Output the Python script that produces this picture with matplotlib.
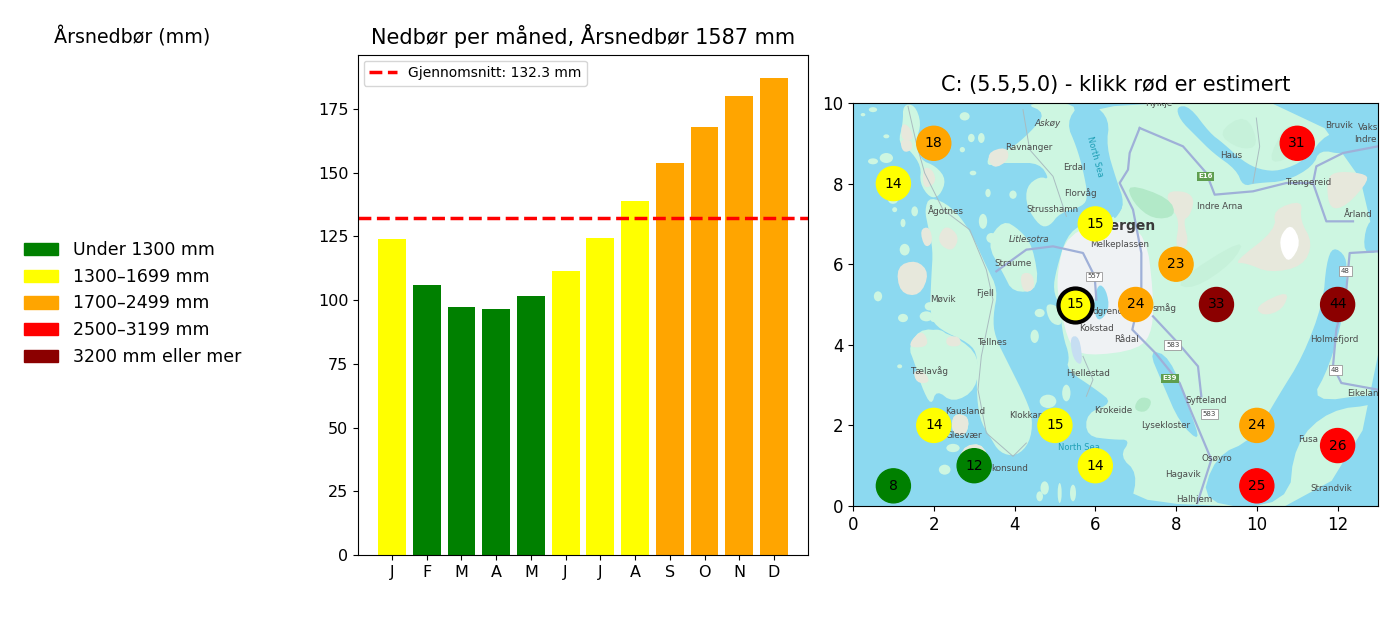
import matplotlib
matplotlib.use('Agg')
import matplotlib.pyplot as plt
from matplotlib.patches import Patch, Polygon, Ellipse

# colours for the rainfall classes
GREEN = 'green'
YELLOW = 'yellow'
ORANGE = 'orange'
RED = 'red'
DARKRED = 'darkred'

# monthly bars
months = ['J', 'F', 'M', 'A', 'M', 'J', 'J', 'A', 'S', 'O', 'N', 'D']
month_values = [124, 106, 97.5, 96.5, 101.5, 111.5, 124.5, 139, 154, 168, 180, 187]
month_colors = [YELLOW, GREEN, GREEN, GREEN, GREEN, YELLOW, YELLOW, YELLOW,
                ORANGE, ORANGE, ORANGE, ORANGE]
mean_value = 132.3

# legend
class_labels = ['Under 1300 mm', '1300–1699 mm', '1700–2499 mm', '2500–3199 mm', '3200 mm eller mer']
class_colors = [GREEN, YELLOW, ORANGE, RED, DARKRED]

# stations on the map
st_x = [2, 1, 6, 8, 7, 9, 12, 11, 2, 5, 10, 12, 3, 6, 1, 10]
st_y = [9, 8, 7, 6, 5, 5, 5, 9, 2, 2, 2, 1.5, 1, 1, 0.5, 0.5]
st_val = [18, 14, 15, 23, 24, 33, 44, 31, 14, 15, 24, 26, 12, 14, 8, 25]
st_col = [ORANGE, YELLOW, YELLOW, ORANGE, ORANGE, DARKRED, DARKRED, RED,
          YELLOW, YELLOW, ORANGE, RED, GREEN, YELLOW, GREEN, RED]
sel_x, sel_y, sel_val = 5.5, 5.0, 15

# map background, traced at 3x map pixels (1575 x 1209)
WATER = '#8cd9f0'
LAND = '#cdf6e1'
BEIGE = '#e7e8dc'
URBAN = '#eff2f4'
FOREST = '#b2e9c8'
HILL = '#c6f1da'
ROAD = '#9fb0d8'
THIN_ROAD = '#a9bcc0'

land_shapes = [
    # mainland
    [(720, 0), (1575, 0), (1575, 1209), (833, 1209), (854, 1110), (800, 1060), (833, 1010), (780, 1010), (700, 1000),
     (700, 930), (780, 900), (730, 860), (640, 800), (650, 760), (630, 700), (620, 610), (600, 560), (610, 500),
     (640, 400), (690, 360), (790, 345), (815, 300), (790, 230), (760, 130), (770, 50)],
    # Sotra
    [(230, 280), (295, 310), (350, 380), (400, 490), (435, 560), (420, 640), (425, 700), (470, 790), (520, 890),
     (540, 950), (530, 1020), (490, 1060), (440, 1050), (410, 1000), (380, 950), (370, 860), (375, 760), (350, 720),
     (260, 680), (230, 640), (235, 520), (240, 440), (225, 370), (215, 320)],
    # west of Sotra
    [(165, 730), (210, 670), (310, 700), (380, 760), (370, 860), (300, 900), (250, 860), (235, 910), (205, 850),
     (185, 780)],
    # outer strip in the north west
    [(150, 5), (185, 5), (205, 60), (190, 110), (200, 170), (250, 190), (280, 230), (260, 280), (230, 285), (200, 240),
     (205, 190), (170, 140), (135, 120), (150, 60)],
    # Askoy
    [(470, 140), (530, 90), (580, 30), (510, 0), (680, 0), (640, 60), (670, 130), (690, 200), (705, 280), (690, 310),
     (620, 330), (590, 370), (560, 370), (520, 310), (520, 250), (560, 220), (590, 230), (560, 180), (480, 180),
     (440, 180), (400, 190), (410, 150)],
    # Litlesotra
    [(400, 420), (450, 350), (500, 380), (540, 430), (560, 560), (480, 570), (450, 510)],
    # islands near Sekkingstad
    [(300, 930), (350, 940), (340, 1000), (295, 990)],
    [(320, 1030), (400, 1020), (410, 1140), (320, 1140)],
    [(575, 600), (620, 610), (630, 670), (590, 660)],
]
water_shapes = [
    # Sorfjorden and the arm by Trengereid
    [(970, 10), (1010, 10), (1070, 90), (1110, 120), (1170, 175), (1220, 200), (1280, 205), (1360, 170), (1420, 90),
     (1500, 85), (1560, 20), (1575, 10), (1581, 100), (1540, 135), (1470, 155), (1400, 140), (1380, 190), (1300, 235),
     (1210, 240), (1170, 250), (1150, 200), (1080, 150), (1030, 100), (980, 50)],
    # Fusafjorden and Samnangerfjorden
    [(1440, 430), (1480, 460), (1480, 520), (1475, 620), (1430, 790), (1370, 900), (1575, 870), (1575, 905),
     (1430, 920), (1325, 1020), (1306, 1209), (1042, 1209), (1085, 1060), (1200, 1010), (1275, 880), (1350, 760),
     (1410, 600), (1420, 480)],
    # sliver at the right edge
    [(1540, 360), (1581, 340), (1581, 450), (1530, 450)],
    # Fanafjorden
    [(886, 740), (950, 760), (1010, 920), (1044, 1020), (980, 960), (928, 840)],
    # inlet at the city
    [(735, 540), (760, 560), (770, 620), (735, 660), (720, 610)],
    # Byfjorden
    [(780, 260), (815, 300), (790, 345), (780, 345)],
]
urban_shapes = [
    [(640, 390), (800, 345), (880, 400), (900, 560), (900, 680), (860, 740), (700, 760), (650, 730), (620, 610),
     (610, 520)],
]
beige_shapes = [
    [(940, 265), (1000, 265), (1025, 290), (1010, 340), (990, 350), (1010, 430), (965, 440), (980, 350), (950, 310)],
    [(1140, 480), (1270, 380), (1260, 320), (1350, 290), (1340, 350), (1380, 420), (1350, 490), (1250, 510),
     (1180, 480)],
    [(1420, 240), (1440, 205), (1530, 210), (1550, 230), (1480, 310), (1430, 320)],
    [(1205, 610), (1310, 560), (1290, 620), (1230, 640)],
    [(255, 400), (280, 365), (320, 400), (300, 445), (265, 430)],
    [(200, 380), (230, 370), (240, 420), (215, 435)],
    [(130, 490), (190, 470), (230, 510), (200, 580), (140, 570)],
    [(140, 110), (175, 110), (180, 140), (150, 150)],
    [(145, 60), (170, 70), (185, 110), (145, 115)],
    [(210, 190), (240, 200), (250, 240), (210, 260)],
    [(500, 510), (540, 510), (545, 560), (510, 570)],
    [(400, 150), (460, 130), (470, 170), (420, 200)],
    [(175, 710), (210, 680), (230, 730), (170, 735)],
    [(280, 700), (320, 700), (325, 730), (280, 730)],
    [(180, 800), (220, 810), (230, 840), (190, 840)],
    [(300, 930), (350, 940), (340, 1000), (295, 990)],
    [(320, 1030), (400, 1020), (410, 1140), (320, 1140)],
]
hill_shapes = [
    [(960, 540), (1180, 400), (1140, 480), (1020, 560)],
    [(1240, 180), (1300, 60), (1340, 80), (1310, 170)],
    [(1090, 90), (1180, 30), (1220, 130), (1160, 140)],
]
forest_shapes = [
    [(820, 240), (950, 285), (970, 340), (900, 350), (840, 300)],
    [(860, 880), (900, 890), (880, 930), (840, 920)],
]
snow_shape = [(1280, 400), (1315, 360), (1345, 420), (1310, 480), (1285, 450)]
lake_shapes = [
    [(650, 700), (680, 700), (690, 790), (660, 770)],
]
# small islands: centre u, centre v, width, height
islets = [(60, 175, 30, 18), (100, 165, 40, 30), (30, 35, 14, 10), (60, 20, 25, 15), (335, 40, 30, 25),
          (355, 105, 20, 25), (385, 105, 20, 30), (328, 140, 16, 16), (405, 270, 16, 25), (480, 275, 22, 25),
          (390, 355, 25, 45), (150, 360, 15, 25), (185, 325, 20, 30), (125, 320, 15, 15), (155, 440, 30, 35),
          (75, 580, 25, 30), (415, 405, 30, 30), (360, 210, 20, 14), (150, 645, 30, 25), (220, 640, 40, 30),
          (230, 610, 30, 25), (245, 650, 25, 15), (140, 790, 15, 12), (275, 1100, 35, 30), (300, 1035, 40, 25),
          (585, 895, 50, 40), (640, 870, 25, 50), (545, 700, 25, 40), (560, 630, 30, 25), (575, 1155, 25, 40),
          (620, 1170, 12, 60), (560, 1180, 20, 30), (660, 1170, 18, 50), (100, 100, 18, 12), (110, 230, 50, 30),
          (120, 290, 30, 25), (250, 700, 60, 40)]
road_lines = [
    [(860, 75), (830, 150), (825, 200), (800, 240), (840, 320), (865, 450), (865, 560), (838, 680), (907, 750),
     (980, 840), (1012, 920), (1054, 1020), (1075, 1070), (1033, 1200)],
    [(860, 75), (990, 130), (1060, 210), (1085, 275), (1200, 265), (1300, 240), (1380, 240), (1420, 355), (1500, 355)],
    [(1380, 240), (1390, 190), (1470, 150), (1575, 130)],
    [(430, 505), (520, 440), (600, 430), (690, 450), (725, 520), (730, 590)],
    [(900, 640), (975, 720), (1035, 790), (1045, 880)],
    [(1575, 445), (1490, 450), (1480, 560), (1450, 680), (1440, 790), (1465, 840), (1575, 860)],
]
thin_roads = [
    [(165, 10), (190, 120), (215, 210), (270, 320), (350, 380), (400, 500), (420, 590), (385, 760), (375, 860),
     (400, 990), (480, 1060), (520, 1020)],
    [(510, 20), (530, 140), (600, 220), (640, 340)],
    [(690, 760), (720, 830), (700, 880)],
    [(1210, 45), (1220, 130), (1200, 240)],
]
place_names = ['Askøy', 'Ravnanger', 'Erdal', 'Florvåg', 'Strusshamn', 'Ågotnes', 'Litlesotra', 'Melkeplassen',
               'Straume', 'Møvik', 'Fjell', 'Kokstad', 'Rådal', 'Tellnes', 'Hjellestad', 'Tælavåg', 'Kausland',
               'Glesvær', 'Klokkar', 'Krokeide', 'Lysekloster', 'Syfteland', 'Osøyro', 'Hagavik', 'Halhjem',
               'konsund', 'Fusa', 'Strandvik', 'Holmefjord', 'Eikelan', 'Indre Arna', 'Haus', 'Trengereid',
               'Årland', 'Bruvik', 'Indre', 'Vaks', 'Hylkje', 'småg', 'dgrenc']
# label centres in pixels of the first map crop
place_px = [(592, 100), (540, 173), (668, 233), (687, 310), (608, 360), (303, 362), (540, 448), (798, 463),
            (495, 522), (293, 627), (414, 612), (732, 717), (817, 748), (435, 758), (707, 852), (255, 844), (357, 964),
            (353, 1036), (530, 977), (780, 962), (930, 1007), (1046, 933), (1076, 1107), (980, 1155), (1010, 1230),
            (485, 1137), (1335, 1049), (1402, 1197), (1411, 750), (1492, 911), (1084, 350), (1116, 197), (1337, 279),
            (1480, 373), (1424, 106), (1498, 149), (1507, 113), (910, 42), (925, 654), (765, 665)]
shield_names = ['557', '583', '48', '48', '583']
shield_px = [(725, 560), (950, 765), (1442, 544), (1414, 841), (1054, 972)]
green_shield_names = ['E16', 'E39']
green_shield_px = [(1044, 260), (942, 865)]


def to_map(px):
    # crop pixels to the axis units of the map
    x = (px[0] - 38) / (1535 - 38) * 13
    y = (1248 - px[1]) / (1248 - 40) * 10
    return (x, y)


def uv_to_map(p):
    return (p[0] / 1575 * 13, (1209 - p[1]) / 1209 * 10)


def smooth(points):
    # corner cutting, so the coast is not so angular
    for i in range(2):
        new = []
        for j in range(len(points)):
            a = points[j]
            b = points[(j + 1) % len(points)]
            new.append((0.75 * a[0] + 0.25 * b[0], 0.75 * a[1] + 0.25 * b[1]))
            new.append((0.25 * a[0] + 0.75 * b[0], 0.25 * a[1] + 0.75 * b[1]))
        points = new
    return points


fig = plt.figure(figsize=(14, 6.17), dpi=100)
W, H = 1400, 617


def add_axes_px(left, top, right, bottom):
    return fig.add_axes([left / W, 1 - bottom / H, (right - left) / W, (bottom - top) / H])


# legend panel
fig.text(132.5 / W, 1 - 37 / H, 'Årsnedbør (mm)', fontsize=13.7, ha='center', va='center')
handles = [Patch(color=c, label=l) for c, l in zip(class_colors, class_labels)]
fig.legend(handles=handles, loc='center left', bbox_to_anchor=(8 / W, 1 - 303.5 / H), frameon=False,
           fontsize=12.5, handlelength=2, handletextpad=0.87, labelspacing=0.5)

# monthly bars
ax = add_axes_px(358, 55, 808, 555)
ax.bar(range(12), month_values, color=month_colors, width=0.8)
ax.axhline(mean_value, color='red', linestyle='--', linewidth=2.5, label=f'Gjennomsnitt: {mean_value} mm')
ax.set_xticks(range(12))
ax.set_xticklabels(months)
ax.set_xlim(-0.98, 11.98)
ax.set_ylim(0, 196.2)
ax.tick_params(labelsize=11.5)
ax.set_title('Nedbør per måned, Årsnedbør 1587 mm', fontsize=15, pad=8)
ax.legend(loc='upper left', fontsize=10, borderaxespad=0.4)

# map
ax2 = add_axes_px(853, 103, 1378, 506)
ax2.set_facecolor(WATER)
for shapes, col, z in [(land_shapes, LAND, 1), (hill_shapes, HILL, 1.05), (urban_shapes, URBAN, 1.06),
                       (water_shapes, WATER, 1.1), (beige_shapes, BEIGE, 1.3), (forest_shapes, FOREST, 1.3),
                       (lake_shapes, '#c6def2', 1.4), ([snow_shape], 'white', 1.5)]:
    for shape in shapes:
        ax2.add_patch(Polygon(smooth([uv_to_map(p) for p in shape]), closed=True, facecolor=col, edgecolor='none',
                              zorder=z))
for u, v, w, h in islets:
    cx, cy = uv_to_map((u, v))
    ax2.add_patch(Ellipse((cx, cy), w / 1575 * 13, h / 1209 * 10, facecolor=LAND, edgecolor='none', zorder=1.02))
for line in road_lines:
    pts = [uv_to_map(p) for p in line]
    ax2.plot([p[0] for p in pts], [p[1] for p in pts], color=ROAD, linewidth=1.6, zorder=2)
for line in thin_roads:
    pts = [uv_to_map(p) for p in line]
    ax2.plot([p[0] for p in pts], [p[1] for p in pts], color=THIN_ROAD, linewidth=0.7, zorder=2)
for name, px in zip(place_names, place_px):
    x, y = to_map(px)
    style = 'italic' if name in ('Askøy', 'Litlesotra') else 'normal'
    ax2.text(x, y, name, fontsize=6.3, color='#4a4a4a', ha='center', va='center', style=style, zorder=3, clip_on=True)
x, y = to_map((821, 410))
ax2.text(x, y, 'Bergen', fontsize=10, weight='bold', color='#3a3a3a', ha='center', va='center', zorder=3)
x, y = to_map((727, 202))
ax2.text(x, y, 'North Sea', fontsize=6, color='#1f9fb5', rotation=-75, ha='center', va='center', zorder=3)
x, y = to_map((682, 1074))
ax2.text(x, y, 'North Sea', fontsize=6, color='#1f9fb5', ha='center', va='center', zorder=3)
for name, px in zip(shield_names, shield_px):
    x, y = to_map(px)
    ax2.text(x, y, name, fontsize=5, color='#444444', ha='center', va='center', zorder=3,
             bbox=dict(boxstyle='square,pad=0.25', facecolor='white', edgecolor='#999999', linewidth=0.6))
for name, px in zip(green_shield_names, green_shield_px):
    x, y = to_map(px)
    ax2.text(x, y, name, fontsize=5, color='white', weight='bold', ha='center', va='center', zorder=3,
             bbox=dict(boxstyle='square,pad=0.2', facecolor='#5f9e4f', edgecolor='none'))

ax2.scatter(st_x, st_y, s=600, c=st_col, zorder=4)
ax2.scatter([sel_x], [sel_y], s=600, c=YELLOW, edgecolors='black', linewidths=3, zorder=4)
for x, y, v in zip(st_x, st_y, st_val):
    ax2.text(x, y, str(v), fontsize=10, ha='center', va='center', zorder=5)
ax2.text(sel_x, sel_y, str(sel_val), fontsize=10, ha='center', va='center', zorder=5)
ax2.set_xlim(0, 13)
ax2.set_ylim(0, 10)
ax2.set_xticks(range(0, 13, 2))
ax2.set_yticks(range(0, 11, 2))
ax2.tick_params(labelsize=12)
ax2.set_title('C: (5.5,5.0) - klikk rød er estimert', fontsize=15, pad=9)

fig.savefig('out.png', dpi=100)
